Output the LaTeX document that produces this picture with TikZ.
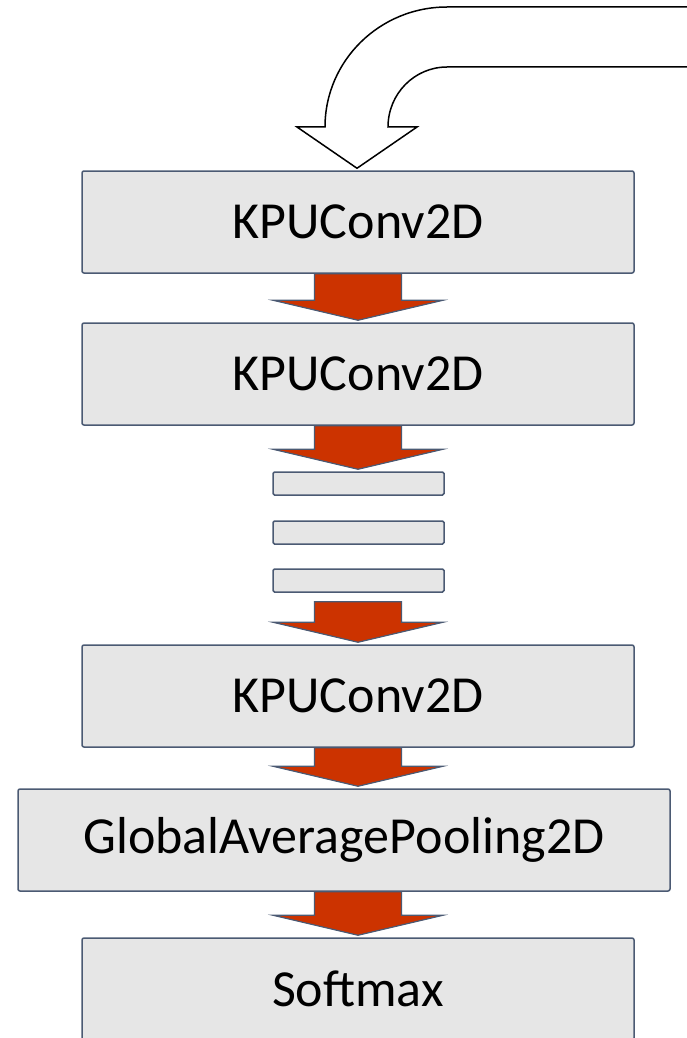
\documentclass[tikz,border=0pt]{standalone}
\usepackage{fontspec}
\setmainfont{Carlito}
\usetikzlibrary{calc}
\definecolor{boxfill}{HTML}{E6E6E6}
\definecolor{boxline}{HTML}{4B5A73}
\definecolor{arrowred}{HTML}{CC3300}
\tikzset{
  layer/.style={draw=boxline, fill=boxfill, line width=1.5pt, rounded corners=2pt,
    minimum width=552pt, minimum height=102pt, inner sep=0pt,
    font=\fontsize{52}{62}\selectfont},
  bar/.style={draw=boxline, fill=boxfill, line width=1.5pt, rounded corners=1.5pt,
    minimum width=171pt, minimum height=23pt, inner sep=0pt},
  blockarrow/.style={draw=boxline, fill=arrowred, line width=1.2pt, line join=miter},
  looparrow/.style={draw=black, fill=white, line width=1.5pt, line join=miter}
}
\begin{document}
\begin{tikzpicture}[x=1pt, y=-1pt]
    \useasboundingbox (0,0) rectangle (687,1038);

    \node (Conv1) [layer] at (358,222) {KPUConv2D};
    \node (Conv2) [layer] at (358,374) {KPUConv2D};
    \node (Bar1) [bar] at (358.5,483.5) {};
    \node (Bar2) [bar] at (358.5,532.5) {};
    \node (Bar3) [bar] at (358.5,580.5) {};
    \node (ConvN) [layer] at (358,696) {KPUConv2D};
    \node (Pooling) [layer, minimum width=652pt] at (344,840) {GlobalAveragePooling2D};
    \node (Softmax) [layer] at (358,989) {Softmax};

    % recurrent input coming back from the right
    \draw[looparrow] (700,7) -- (447,7)
        arc[start angle=270, end angle=180, x radius=122, y radius=120]
        -- (297,127) -- ($(Conv1.north)+(-1,-2)$) -- (417,127) -- (388,127)
        arc[start angle=180, end angle=270, x radius=59, y radius=60]
        -- (700,67);

    % block arrows between the layers, all on the axis of Conv1
    \foreach \from/\to/\gap in {Conv1/Conv2/0, Conv2/Bar1/0, Bar3/ConvN/9, ConvN/Pooling/0, Pooling/Softmax/0}
        \draw[blockarrow] ($(Conv1.south |- \from.south)+(-43.5,\gap)$) -- ($(Conv1.south |- \from.south)+(43.5,\gap)$)
            -- ($(Conv1.north |- \to.north)+(43.5,-22)$) -- ($(Conv1.north |- \to.north)+(85,-22)$)
            -- ($(Conv1.north |- \to.north)+(0,-2)$) -- ($(Conv1.north |- \to.north)+(-85,-22)$)
            -- ($(Conv1.north |- \to.north)+(-43.5,-22)$) -- cycle;
\end{tikzpicture}
\end{document}
